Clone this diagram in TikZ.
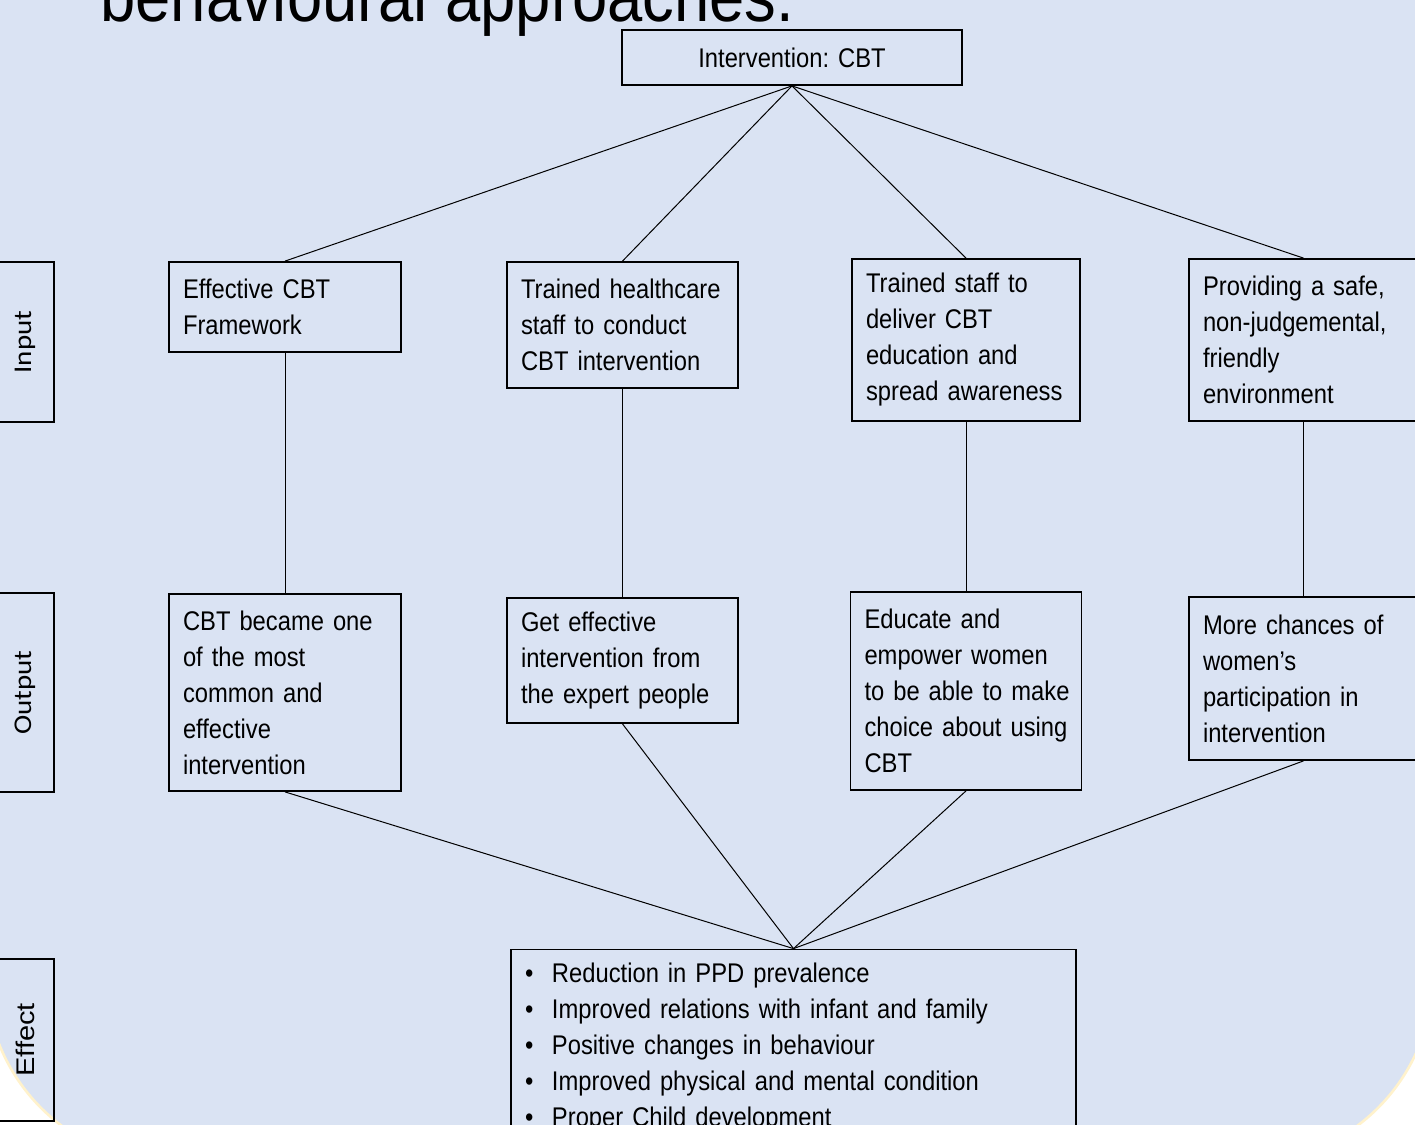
\documentclass[tikz,border=0pt]{standalone}
\usepackage{graphicx}
\usepackage{fontspec}
\setmainfont{Liberation Sans}[FakeStretch=0.88]
\newfontfamily\labelfont{Carlito}
\newfontfamily\effectfont{Liberation Sans}
\usetikzlibrary{positioning}
\definecolor{slideblue}{RGB}{218,227,243}
\definecolor{slideedge}{RGB}{255,242,204}
\newcommand{\efbullet}{\makebox[13.5pt][l]{\textbullet}}
\frenchspacing

\begin{document}
\begin{tikzpicture}[x=0.5pt, y=-0.5pt,
	boxtext/.style={font=\fontsize{13.5}{18}\selectfont}]
	\useasboundingbox (0,0) rectangle (1415,1125);
	\clip (0,0) rectangle (1415,1125);
	\filldraw[fill=slideblue, draw=slideedge, line width=1.3pt, rounded corners=94pt] (-14,-600) rectangle (1433,1163);
	
	\node[anchor=base west, inner sep=0pt, font=\fontsize{36}{40}\selectfont] (TI) at (100,21) {behavioural approaches.};
	
	\begin{scope}[every node/.style={draw, line width=0.9pt, rotate=90, inner sep=0pt,
		font=\fontsize{14.5}{16}\selectfont}]
	\node[minimum width=80pt, minimum height=29pt] (IN) at (25,342) {\labelfont\scalebox{1}[0.88]{Input}};
	\node[minimum width=99.5pt, minimum height=29pt] (OUT) at (25,692.5) {\labelfont\scalebox{1}[0.88]{Output}};
	\node[minimum width=81pt, minimum height=29pt] (EFL) at (25,1040) {\effectfont\scalebox{1}[0.88]{Effect}};
	\end{scope}
	
	\begin{scope}[every node/.style={draw, line width=0.9pt, align=center, inner xsep=7pt,
		inner ysep=0pt, boxtext}]
	\node[text width=156pt, minimum height=27.5pt] (CBT) at (792,57.5) {Intervention: CBT};
	\end{scope}
	
	\begin{scope}[every node/.style={draw, line width=0.9pt, align=left, inner xsep=7pt,
		inner ysep=0pt, boxtext}]
	\node[text width=102pt, minimum height=45pt] (FW) at (285,307) {Effective CBT\\Framework};
	\node[text width=101.5pt, minimum height=63pt] (HS) at (622.5,325) {Trained healthcare\\staff to conduct\\CBT intervention};
	\node[text width=100pt, minimum height=81pt] (ED) at (966,340) {Trained staff to\\deliver CBT\\education and\\spread awareness};
	\node[text width=100.5pt, minimum height=81pt] (EN) at (1303.5,340) {Providing a safe,\\non-judgemental,\\friendly\\environment};
	\end{scope}
	
	\begin{scope}[every node/.style={draw, line width=0.9pt, align=left, inner xsep=7pt,
		inner ysep=0pt, boxtext}]
	\node[text width=102pt, minimum height=98.5pt] (CO) at (285,692.5) {CBT became one\\of the most\\common and\\effective\\intervention};
	\node[text width=101.5pt, minimum height=62.5pt] (EX) at (622.5,660.5) {Get effective\\intervention from\\the expert people};
	\node[text width=101.5pt, minimum height=99pt] (EM) at (966,691) {Educate and\\empower women\\\mbox{to be able to make}\\\mbox{choice about using}\\CBT};
	\node[text width=100.5pt, minimum height=81.5pt] (PA) at (1303.5,678.5) {More chances of\\women's\\participation in\\intervention};
	\node[text width=268.5pt, minimum height=98.5pt] (EFF) at (793.5,1048) {\efbullet Reduction in PPD prevalence\\
		\efbullet Improved relations with infant and family\\
		\efbullet Positive changes in behaviour\\
		\efbullet Improved physical and mental condition\\
		\efbullet Proper Child development};
	\end{scope}
	
	\begin{scope}[every path/.style={draw=black, line width=0.5pt}]
	\path (CBT.south) -- (FW.north);
	\path (CBT.south) -- (HS.north);
	\path (CBT.south) -- (ED.north);
	\path (CBT.south) -- (EN.north);
	\path (FW) -- (CO);
	\path (HS) -- (EX);
	\path (ED) -- (EM);
	\path (EN) -- (PA);
	\path (CO.south) -- (EFF.north);
	\path (EX.south) -- (EFF.north);
	\path (EM.south) -- (EFF.north);
	\path (PA.south) -- (EFF.north);
	\end{scope}
\end{tikzpicture}
\end{document}
